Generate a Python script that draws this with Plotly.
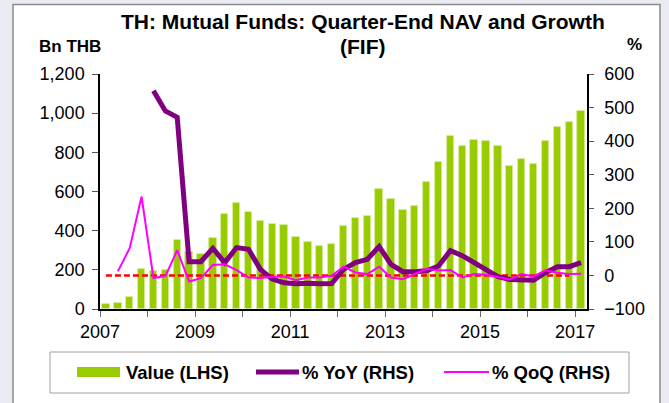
import plotly.graph_objects as go

# ---------------- data ----------------
quarters = [f"{y}Q{q}" for y in range(2007, 2017) for q in range(1, 5)] + ["2017Q1"]

value_lhs = [25, 31, 60, 206, 192, 199, 354, 291, 279, 364, 485, 541, 495, 449, 436, 427,
             369, 344, 323, 330, 424, 463, 475, 611, 562, 506, 528, 648, 749, 885, 831, 865,
             858, 831, 732, 764, 740, 858, 928, 957, 1011]

yoy_rhs = [None, None, None, None, 550, 490, 471, 41, 41, 81, 38, 83, 78, 18, -11, -22,
           -25, -23, -25, -24, 18, 38, 48, 86, 33, 11, 11, 14, 28, 74, 59, 38,
           18, -4, -12, -12, -14, 8, 26, 26, 38]

qoq_rhs = [None, 12, 81, 235, -8, -2, 75, -18, -8, 31, 33, 16, -6, -8, -4, -3,
           -14, -6, -6, -1, 26, 9, 4, 26, -6, -11, 4, 20, 15, 16, -6, 4,
           2, -5, -12, 4, -3, 15, 8, 4, 5]

zero_line = [0] * 40  # reference line, 2007Q1 .. 2016Q4

year_ticks = list(range(2007, 2018))
year_labels = [str(y) if (y - 2007) % 2 == 0 else "" for y in year_ticks]

legend_names = ["Value (LHS)", "% YoY (RHS)", "% QoQ (RHS)"]
title_lines = ["TH: Mutual Funds: Quarter-End NAV and Growth", "(FIF)"]

# quarter label -> decimal-year position (middle of the quarter)
def qpos(label):
    y, q = label.split("Q")
    return int(y) + (int(q) - 0.5) / 4

x_all = [qpos(q) for q in quarters]

# ---------------- styling ----------------
FONT = "Liberation Sans, Arial, sans-serif"
GREEN = "#99cc00"
PURPLE = "#800080"
MAGENTA = "#ff00ff"

W, H = 669, 403
L, R, T, B = 100, 587, 74, 309


def px_x(p):
    return (p - L) / (R - L)


def px_y(p):
    return (B - p) / (B - T)


fig = go.Figure()

fig.add_trace(go.Bar(
    x=x_all, y=value_lhs, name=legend_names[0],
    marker=dict(color=GREEN, line=dict(color="#d6eb99", width=0.8)),
    width=0.155, yaxis="y", showlegend=False,
))
fig.add_trace(go.Scatter(
    x=x_all[:len(zero_line)], y=zero_line, mode="lines", yaxis="y2",
    line=dict(color="#ff0000", width=2.5, dash="6px,3px"), showlegend=False,
))
fig.add_trace(go.Scatter(
    x=x_all, y=yoy_rhs, name=legend_names[1], mode="lines", yaxis="y2",
    line=dict(color=PURPLE, width=5), showlegend=False,
))
fig.add_trace(go.Scatter(
    x=x_all, y=qoq_rhs, name=legend_names[2], mode="lines", yaxis="y2",
    line=dict(color=MAGENTA, width=2), showlegend=False,
))

shapes = [
    # chart frame
    dict(type="rect", xref="paper", yref="paper", layer="below",
         x0=px_x(13), x1=px_x(660), y0=px_y(420), y1=px_y(4.5),
         fillcolor="white", line=dict(color="#8c8c8c", width=1.5)),
    # legend box
    dict(type="rect", xref="paper", yref="paper",
         x0=px_x(50), x1=px_x(629), y0=px_y(393), y1=px_y(352),
         fillcolor="white", line=dict(color="#a0a0a0", width=1)),
    dict(type="rect", xref="paper", yref="paper",
         x0=px_x(77), x1=px_x(120), y0=px_y(377), y1=px_y(367),
         fillcolor=GREEN, line=dict(width=0)),
    dict(type="line", xref="paper", yref="paper",
         x0=px_x(256), x1=px_x(299), y0=px_y(372), y1=px_y(372),
         line=dict(color=PURPLE, width=5)),
    dict(type="line", xref="paper", yref="paper",
         x0=px_x(444), x1=px_x(489), y0=px_y(372), y1=px_y(372),
         line=dict(color=MAGENTA, width=2)),
]

ann_font = dict(family=FONT, size=17, color="black")
leg_font = dict(family=FONT, size=18.5, color="black")
title_font = dict(family=FONT, size=21, color="black")
annotations = [
    dict(text="<b>" + title_lines[0] + "</b>",
         xref="paper", yref="paper", x=px_x(363), y=px_y(22), xanchor="center", yanchor="middle",
         showarrow=False, font=title_font),
    dict(text="<b>" + title_lines[1] + "</b>",
         xref="paper", yref="paper", x=px_x(362), y=px_y(47), xanchor="center", yanchor="middle",
         showarrow=False, font=title_font),
    dict(text="<b>Bn THB</b>", xref="paper", yref="paper", x=px_x(37), y=px_y(46),
         xanchor="left", yanchor="middle", showarrow=False, font=ann_font),
    dict(text="<b>%</b>", xref="paper", yref="paper", x=px_x(634), y=px_y(44),
         xanchor="center", yanchor="middle", showarrow=False, font=ann_font),
    dict(text="<b>" + legend_names[0] + "</b>", xref="paper", yref="paper", x=px_x(124), y=px_y(372),
         xanchor="left", yanchor="middle", showarrow=False, font=leg_font),
    dict(text="<b>" + legend_names[1] + "</b>", xref="paper", yref="paper", x=px_x(300), y=px_y(372),
         xanchor="left", yanchor="middle", showarrow=False, font=leg_font),
    dict(text="<b>" + legend_names[2] + "</b>", xref="paper", yref="paper", x=px_x(490), y=px_y(372),
         xanchor="left", yanchor="middle", showarrow=False, font=leg_font),
]

tick_font = dict(family=FONT, size=18, color="black")

fig.update_layout(
    width=W, height=H, autosize=False,
    margin=dict(l=L, r=W - R, t=T, b=H - B, pad=0),
    paper_bgcolor="#eaeaf3", plot_bgcolor="white",
    font=dict(family=FONT, color="black"),
    showlegend=False,
    bargap=0,
    xaxis=dict(
        range=[2007, 2017.25], tickmode="array", tickvals=year_ticks, ticktext=year_labels,
        ticks="outside", ticklen=6, tickcolor="#666666", tickwidth=1,
        showline=True, linecolor="black", linewidth=1.5, showgrid=False, zeroline=False,
        tickfont=tick_font, ticklabelstandoff=0,
    ),
    yaxis=dict(
        range=[0, 1200], dtick=200, tickformat=",", ticks="outside", ticklen=6,
        tickcolor="#555555", showline=True, linecolor="black", linewidth=1.5,
        showgrid=False, zeroline=False, tickfont=tick_font, ticklabelstandoff=4,
    ),
    yaxis2=dict(
        range=[-100, 600], dtick=100, overlaying="y", side="right", ticks="outside",
        ticklen=5, tickcolor="#555555", showline=True, linecolor="black", linewidth=1.5,
        showgrid=False, zeroline=False, tickfont=tick_font, ticklabelstandoff=7,
    ),
    shapes=shapes,
    annotations=annotations,
)

fig.write_html("out.html", config={"displayModeBar": False},
               post_script="document.body.style.margin='0';")
